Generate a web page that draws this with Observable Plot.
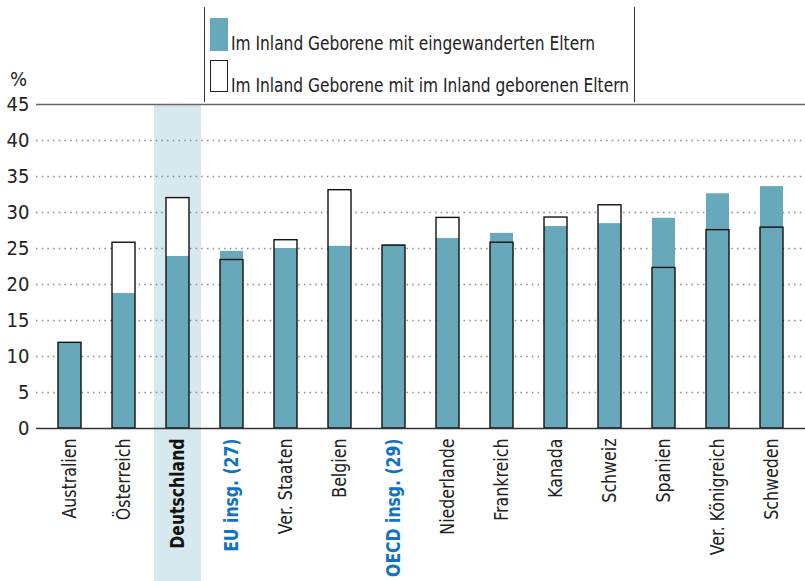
<!DOCTYPE html>
<html>
<head>
<meta charset="utf-8">
<script src="https://cdn.jsdelivr.net/npm/d3@7"></script>
<script src="https://cdn.jsdelivr.net/npm/@observablehq/plot@0.6"></script>
<style>
  html, body { margin: 0; padding: 0; background: #fff; }
  #wrap { position: relative; width: 805px; height: 581px; overflow: hidden; }
  #legend { position: absolute; left: 0; top: 0; }
</style>
</head>
<body>
<div id="wrap"></div>
<script>
const categories = ["Australien","Österreich","Deutschland","EU insg. (27)","Ver. Staaten","Belgien","OECD insg. (29)","Niederlande","Frankreich","Kanada","Schweiz","Spanien","Ver. Königreich","Schweden"];
const immigrantParents = [11.9,18.75,23.9,24.6,25.0,25.3,25.5,26.4,27.1,28.05,28.45,29.2,32.6,33.6];
const nativeParents = [11.9,25.8,32.0,23.4,26.15,33.1,25.4,29.25,25.8,29.3,31.0,22.3,27.55,27.9];
const yTicks = [0,5,10,15,20,25,30,35,40,45];
const gridValues = [5,10,15,20,25,30,35,40];
const highlighted = ["Deutschland"];
const boldLabels = ["Deutschland","EU insg. (27)","OECD insg. (29)"];
const blueLabels = ["EU insg. (27)","OECD insg. (29)"];
const legendLabels = ["Im Inland Geborene mit eingewanderten Eltern","Im Inland Geborene mit im Inland geborenen Eltern"];

const TEAL = "#67a9bb";
const FONT = '"Liberation Sans Narrow", "DejaVu Sans Condensed", Roboto, sans-serif';

const rows = categories.map((c, i) => ({cat: c, imm: immigrantParents[i], nat: nativeParents[i]}));
const normalCats = categories.filter(c => !boldLabels.includes(c));
const boldCats = categories.filter(c => boldLabels.includes(c));

const chart = Plot.plot({
  width: 805,
  height: 581,
  marginTop: 104,
  marginBottom: 153,
  marginLeft: 36,
  marginRight: 0,
  style: {fontFamily: FONT, fontSize: "20px", color: "#222", background: "transparent"},
  x: {domain: categories, range: [36, 805], paddingInner: 0.577, paddingOuter: 0.36, axis: null},
  y: {domain: [0, 45], ticks: yTicks, tickSize: 0, tickPadding: 7, label: null},
  marks: [
    Plot.barY(highlighted, {x: d => d, y1: 0, y2: 45, fill: "#d6e9ee", insetLeft: -12, insetRight: -12, insetBottom: -153}),
    Plot.ruleY(gridValues, {stroke: "#8a8a8a", strokeWidth: 1.3, strokeDasharray: "1.5,4.2"}),
    Plot.ruleY([45], {stroke: "#666", strokeWidth: 1.6}),
    Plot.barY(rows, {x: "cat", y: "nat", fill: "white"}),
    Plot.barY(rows, {x: "cat", y: "imm", fill: TEAL}),
    Plot.barY(rows, {x: "cat", y: "nat", fill: "none", stroke: "#111", strokeWidth: 1.4}),
    Plot.ruleY([0], {stroke: "#333", strokeWidth: 1.6}),
    Plot.axisY({ticks: yTicks, tickSize: 0, tickPadding: 7, fontSize: 20, fill: "#222"}),
    Plot.text(normalCats, {x: d => d, y: () => 0, text: d => d, rotate: -90, textAnchor: "end", lineAnchor: "middle", dy: 10, fontSize: 20, fill: "#222", className: "xlab"}),
    Plot.text(boldCats, {x: d => d, y: () => 0, text: d => d, rotate: -90, textAnchor: "end", lineAnchor: "middle", dy: 10, fontSize: 20, fontWeight: "bold", fill: d => blueLabels.includes(d) ? "#0f73c2" : "#111", className: "xlab"})
  ]
});
// condense the category labels along their reading direction
d3.select(chart).selectAll(".xlab text").each(function() {
  const t = this.getAttribute("transform") || "";
  const bold = this.parentNode.getAttribute("font-weight") === "bold";
  this.setAttribute("transform", t + (bold ? " scale(0.87,1)" : " scale(0.88,1)"));
});
document.getElementById("wrap").appendChild(chart);

// legend and unit label overlay
const ns = "http://www.w3.org/2000/svg";
const leg = document.createElementNS(ns, "svg");
leg.setAttribute("id", "legend");
leg.setAttribute("width", 805);
leg.setAttribute("height", 110);
leg.setAttribute("font-family", FONT);
leg.innerHTML = `
  <line x1="204.5" y1="7" x2="204.5" y2="102" stroke="#333" stroke-width="1"/>
  <line x1="634.5" y1="7" x2="634.5" y2="102" stroke="#333" stroke-width="1"/>
  <rect x="210" y="18" width="18" height="33" fill="${TEAL}"/>
  <text x="231" y="50" font-size="19.5" fill="#222" textLength="364" lengthAdjust="spacingAndGlyphs">${legendLabels[0]}</text>
  <rect x="210.5" y="60.5" width="17" height="31" fill="white" stroke="#222" stroke-width="1"/>
  <text x="231" y="92" font-size="19.5" fill="#222" textLength="398" lengthAdjust="spacingAndGlyphs">${legendLabels[1]}</text>
  <text x="10" y="86" font-size="20" fill="#222">%</text>
`;
document.getElementById("wrap").appendChild(leg);
</script>
</body>
</html>
